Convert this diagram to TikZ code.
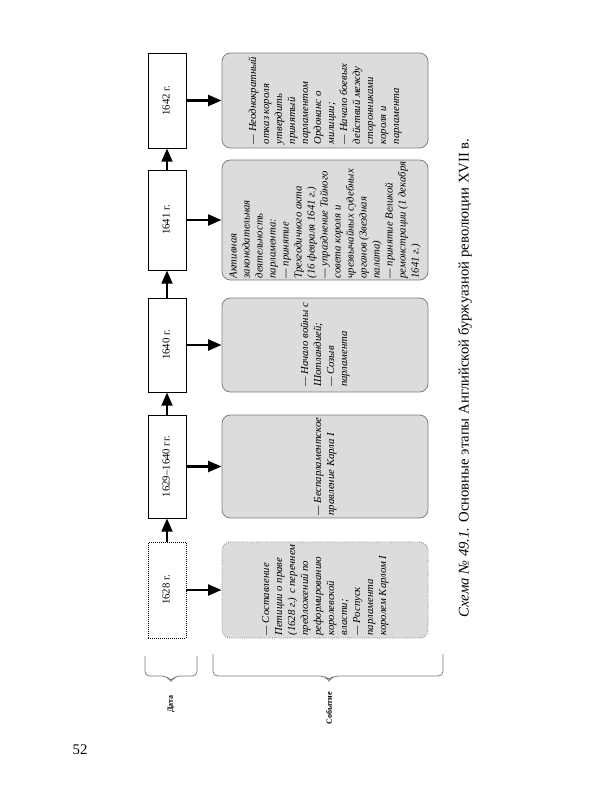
\documentclass[tikz,border=0pt]{standalone}
\usepackage{fontspec}
\setmainfont{Liberation Serif}
\usepackage{graphicx}
\usetikzlibrary{arrows.meta}
\definecolor{boxgray}{RGB}{220, 220, 220}
\definecolor{edgegray}{RGB}{125, 125, 125}
\newcommand{\pxu}{0.2625mm}
\newcommand{\vtext}[1]{\rotatebox{90}{\begin{tabular}{@{}l@{}}#1\end{tabular}}}

\begin{document}
\begin{tikzpicture}[x=\pxu, y=-\pxu,
    datebox/.style={draw, line width=0.5pt, fill=white, minimum width=38*\pxu, inner sep=0pt, font=\fontsize{8}{9.7}\selectfont},
    eventbox/.style={draw=edgegray, line width=0.6pt, fill=boxgray, rounded corners=2.2mm, minimum width=206*\pxu, inner sep=0pt, font=\fontsize{8}{9.7}\selectfont\itshape},
    bigarrow/.style={line width=2pt, -{Triangle[length=10pt, width=8pt]}},
    bracket/.style={draw=edgegray, line width=0.6pt, rounded corners=1.2mm}]
    \useasboundingbox (0,0) rectangle (600,800);

    % dates
    \node[datebox, minimum height=95*\pxu] (d1642) at (167,100.5) {\vtext{1642 г.}};
    \node[datebox, minimum height=100*\pxu] (d1641) at (167,220) {\vtext{1641 г.}};
    \node[datebox, minimum height=94*\pxu] (d1640) at (167,345) {\vtext{1640 г.}};
    \node[datebox, minimum height=103*\pxu] (d1629) at (167,466.5) {\vtext{1629--1640 гг.}};
    \node[datebox, densely dotted, minimum height=96*\pxu] (d1628) at (167,590) {\vtext{1628 г.}};

    % events
    \node[eventbox, minimum height=95*\pxu] (e1642) at (325,100.5) {\vtext{--- Неоднократный\\ отказ короля\\ утвердить\\ принятый\\ парламентом\\ Ордонанс о\\ милиции;\\ --- Начало боевых\\ действий между\\ сторонниками\\ короля и\\ парламента}};
    \node[eventbox, minimum height=120*\pxu] (e1641) at (325,220) {\vtext{Активная\\ законодательная\\ деятельность\\ парламента:\\ --- принятие\\ Трехгодичного акта\\ (16 февраля 1641 г.)\\ --- упразднение Тайного\\ совета короля и\\ чрезвычайных судебных\\ органов (Звездная\\ палата)\\ --- принятие Великой\\ ремонстрации (1 декабря\\ 1641 г.)}};
    \node[eventbox, minimum height=94*\pxu] (e1640) at (325,345) {\vtext{--- Начало войны с\\ Шотландией;\\ --- Созыв\\ парламента}};
    \node[eventbox, minimum height=103*\pxu] (e1629) at (325,466.5) {\vtext{--- Беспарламентское\\ правление Карла I}};
    \node[eventbox, densely dotted, minimum height=96*\pxu] (e1628) at (325,590) {\vtext{--- Составление\\ Петиции о праве\\ (1628 г.) с перечнем\\ предложений по\\ реформированию\\ королевской\\ власти;\\ --- Роспуск\\ парламента\\ королем Карлом I}};

    \foreach \y in {1642,1641,1640,1629,1628}
        \draw[bigarrow] (d\y.east) -- (e\y.west);

    \draw[bigarrow] (d1628.north) -- (d1629.south);
    \draw[bigarrow] (d1629.north) -- (d1640.south);
    \draw[bigarrow] (d1640.north) -- (d1641.south);
    \draw[bigarrow] (d1641.north) -- (d1642.south);

    % brackets
    \coordinate (b1a) at (145,656);
    \coordinate (b1b) at (197,656);
    \coordinate (b2a) at (213,654);
    \coordinate (b2b) at (443,654);
    \draw[bracket] (b1a) -- (145,676) -- (167,676) -- (171,682) -- (175,676) -- (197,676) -- (b1b);
    \draw[bracket] (b2a) -- (213,676) -- (325,676) -- (329,681) -- (333,676) -- (443,676) -- (b2b);
    \node[font=\fontsize{6}{7}\selectfont\bfseries] (date) at (171,704) {\rotatebox{90}{Дата}};
    \node[font=\fontsize{6}{7}\selectfont\bfseries] (event) at (329,708) {\rotatebox{90}{Событие}};

    \node[font=\fontsize{11}{13}\selectfont] (caption) at (465,378) {\rotatebox{90}{\textit{Схема №~49.1.} Основные этапы Английской буржуазной революции XVII в.}};
    \node[font=\fontsize{11}{13}\selectfont] (page) at (80,750) {52};
\end{tikzpicture}
\end{document}
